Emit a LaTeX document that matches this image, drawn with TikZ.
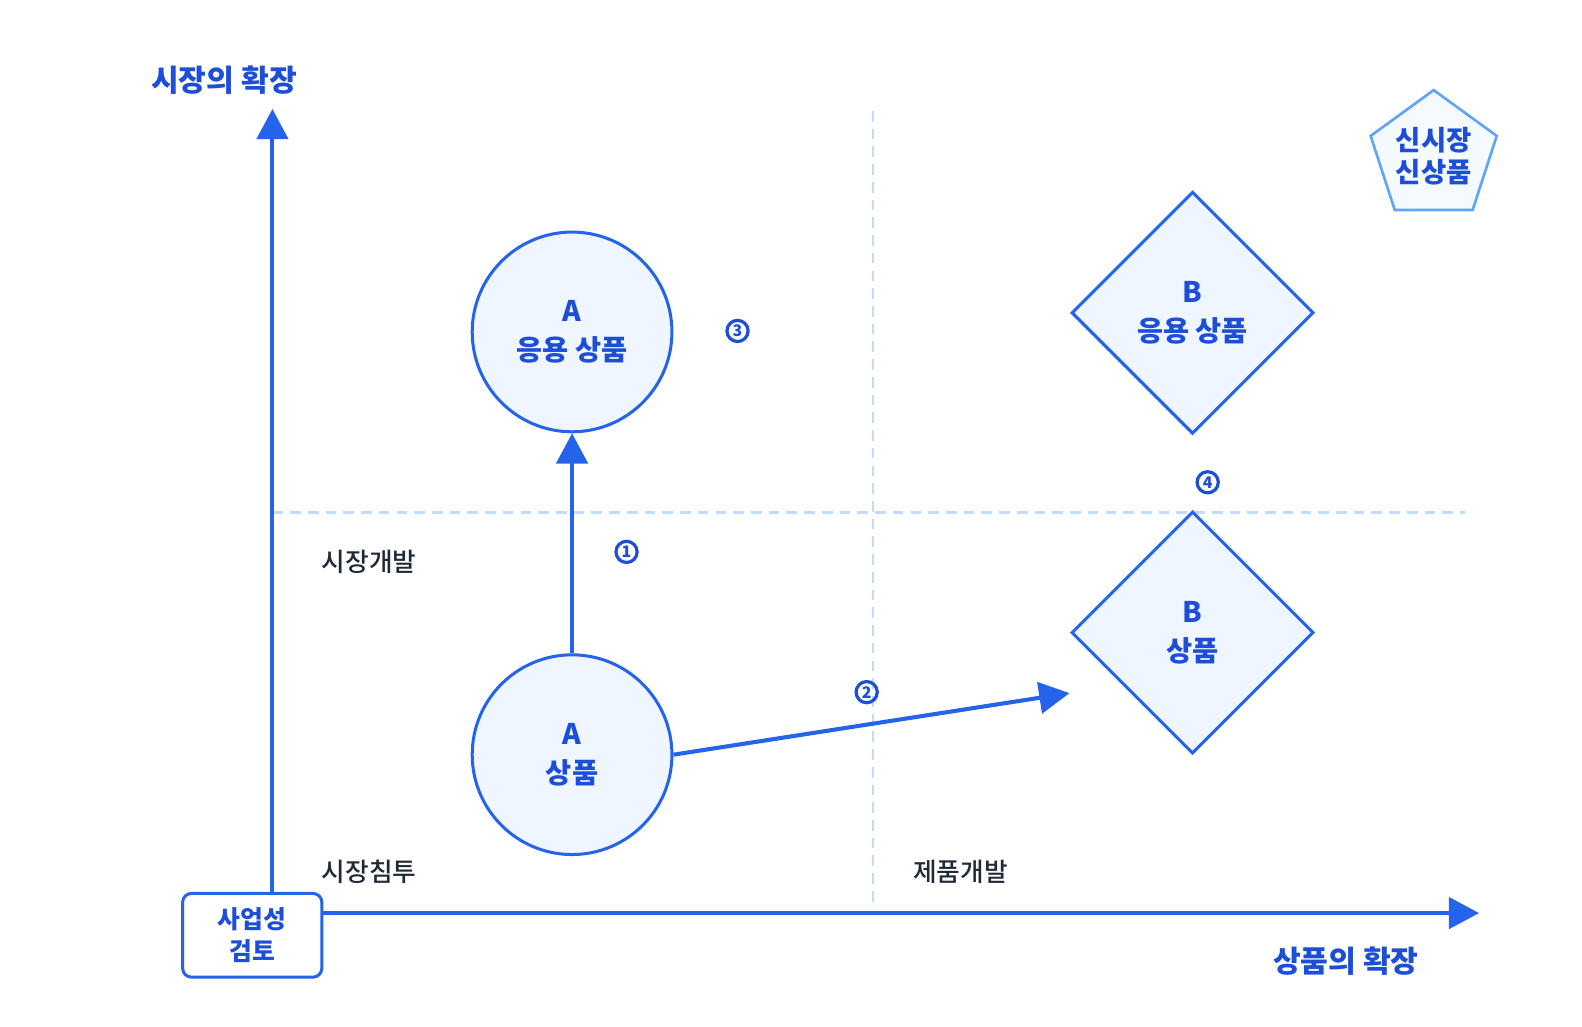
\documentclass[tikz,border=0pt]{standalone}
\usepackage{fontspec}
\setmainfont{Noto Sans CJK KR}
\newfontfamily\medfont{Noto Sans CJK KR Medium}
\usetikzlibrary{arrows.meta,shapes.geometric}

\definecolor{mainblue}{HTML}{2563EB}
\definecolor{textblue}{HTML}{1D4ED8}
\definecolor{lightfill}{HTML}{EFF6FF}
\definecolor{gridblue}{HTML}{BFDBFE}
\definecolor{penblue}{HTML}{60A5FA}
\definecolor{darktext}{HTML}{1F2937}

\begin{document}
\begin{tikzpicture}[x=0.02cm, y=-0.02cm,
    prodcircle/.style={circle, draw=mainblue, fill=lightfill, line width=1.7pt,
        minimum size=3.96cm, inner sep=0pt, align=center, text=textblue,
        font=\bfseries\fontsize{16}{22}\selectfont},
    proddiamond/.style={diamond, draw=mainblue, fill=lightfill, line width=1.7pt,
        minimum size=4.8cm, inner sep=0pt, align=center, text=textblue,
        font=\bfseries\fontsize{16}{22}\selectfont},
    axis/.style={mainblue, line width=2.3pt, -{Triangle[length=0.6cm, width=0.62cm]}},
    grid/.style={gridblue, line width=1.2pt, dash pattern=on 6pt off 4pt},
    num/.style={circle, draw=textblue, line width=1.8pt, inner sep=0pt,
        minimum size=0.42cm, text=textblue, font=\bfseries\fontsize{9}{9}\selectfont},
    quad/.style={text=darktext, font=\medfont\fontsize{14.5}{16}\selectfont},
    axislabel/.style={text=textblue, font=\bfseries\fontsize{17}{20}\selectfont}
]
\useasboundingbox (0,0) rectangle (1568,1017);

% Quadrant grid
\draw[grid] (865,110) -- (865,895);
\draw[grid] (270,508) -- (1452,508);

% Origin box and axes
\node[draw=mainblue, fill=white, line width=1.7pt, rounded corners=5pt,
    minimum width=2.76cm, minimum height=1.66cm, align=center, text=textblue,
    font=\bfseries\fontsize{14}{18}\selectfont] (origin) at (250,927) {사업성\\검토};
\coordinate (ytip) at (270,108);
\coordinate (xtip) at (1466,905);
\draw[axis] (origin.north -| ytip) -- (ytip);
\draw[axis] (origin.east |- xtip) -- (xtip);
\node[axislabel] (ylabel) at (222,79) {시장의 확장};
\node[axislabel] (xlabel) at (1334,953) {상품의 확장};

% Quadrant names
\node[quad] (q1) at (366,557) {시장개발};
\node[quad] (q2) at (366,864) {시장침투};
\node[quad] (q3) at (952,864) {제품개발};

% Products
\node[prodcircle] (aprod) at (567,748) {A\\상품};
\node[prodcircle] (aapp) at (567,329) {A\\응용 상품};
\node[proddiamond] (bprod) at (1182,627) {B\\상품};
\node[proddiamond] (bapp) at (1182,310) {B\\응용 상품};
\node[regular polygon, regular polygon sides=5, draw=penblue, fill=lightfill!60,
    line width=1.5pt, minimum size=2.56cm, inner sep=0pt, align=center, text=textblue,
    font=\bfseries\fontsize{15.5}{18}\selectfont] (newmkt) at (1421,155) {신시장\\신상품};

% Moves
\coordinate (btip) at (1060,687);
\draw[axis] (aprod.north) -- (aapp.south);
\draw[axis] (aprod.east) -- (btip);

% Step numbers
\foreach \n/\px/\py in {1/621/547, 2/859/686, 3/731/328, 4/1197/478}
    \node[num] (n\n) at (\px,\py) {\n};

\end{tikzpicture}
\end{document}
